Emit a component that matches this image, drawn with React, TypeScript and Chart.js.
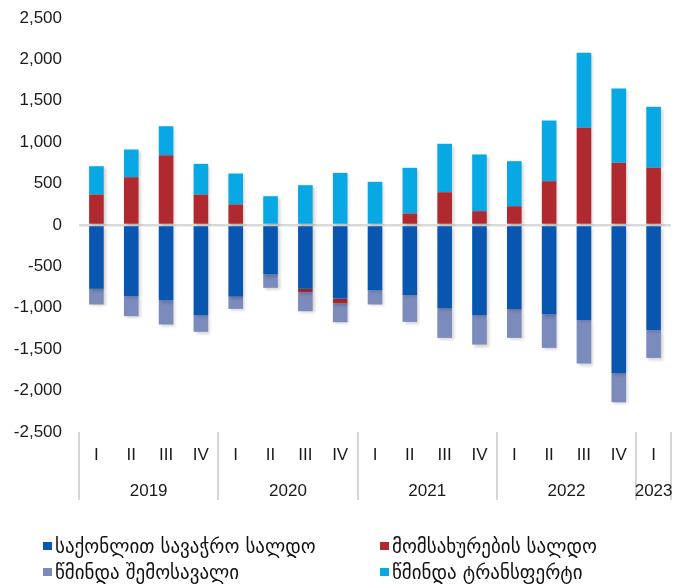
import React, { useEffect, useRef } from "react";
import { Chart, registerables } from "chart.js";

Chart.register(...registerables);

const quarters = ["I", "II", "III", "IV", "I", "II", "III", "IV", "I", "II", "III", "IV", "I", "II", "III", "IV", "I"];
const years = ["2019", "2020", "2021", "2022", "2023"];
const yearSpans = [4, 4, 4, 4, 1];

const goodsBalance = [-771, -860, -912, -1089, -868, -598, -771, -888, -787, -848, -1001, -1089, -1013, -1081, -1150, -1786, -1271];
const servicesBalance = [368, 577, 843, 368, 248, 0, -40, -60, 0, 139, 396, 167, 227, 529, 1174, 751, 691];
const netIncome = [-189, -241, -290, -201, -145, -161, -230, -226, -173, -322, -362, -355, -350, -403, -523, -355, -334];
const netTransfers = [342, 335, 350, 371, 374, 348, 481, 630, 522, 552, 585, 685, 544, 733, 906, 898, 737];

const seriesLabels = ["საქონლით სავაჭრო სალდო", "მომსახურების სალდო", "წმინდა შემოსავალი", "წმინდა ტრანსფერტი"];
const seriesColors = ["#0956b1", "#b0292f", "#7b8bbb", "#07a8e4"];

const yMin = -2500;
const yMax = 2500;
const yStep = 500;

const FONT = "'Liberation Sans', Arial, sans-serif";

const shadowPlugin = {
  id: "barShadow",
  beforeDatasetsDraw(chart: any) {
    const ctx = chart.ctx;
    ctx.save();
    ctx.shadowColor = "rgba(0,0,0,0.18)";
    ctx.shadowBlur = 3;
    ctx.shadowOffsetX = 2;
    ctx.shadowOffsetY = 2;
  },
  afterDatasetsDraw(chart: any) {
    chart.ctx.restore();
  },
};

const yearPlugin = {
  id: "yearGroups",
  afterDraw(chart: any) {
    const ctx = chart.ctx;
    const xs = chart.scales.x;
    const area = chart.chartArea;
    const half = (xs.getPixelForValue(1) - xs.getPixelForValue(0)) / 2;
    ctx.save();
    ctx.strokeStyle = "#d6d6d6";
    ctx.lineWidth = 2;
    let idx = 0;
    const bounds: number[] = [idx];
    yearSpans.forEach((s) => {
      idx += s;
      bounds.push(idx);
    });
    bounds.forEach((b) => {
      const x = Math.round(xs.getPixelForValue(b) - half);
      ctx.beginPath();
      ctx.moveTo(x, area.bottom);
      ctx.lineTo(x, area.bottom + 68);
      ctx.stroke();
    });
    ctx.fillStyle = "#1a1a1a";
    ctx.font = `17px ${FONT}`;
    ctx.textAlign = "center";
    ctx.textBaseline = "middle";
    years.forEach((y, i) => {
      const start = bounds[i];
      const end = bounds[i + 1] - 1;
      const cx = (xs.getPixelForValue(start) + xs.getPixelForValue(end)) / 2;
      ctx.fillText(y, cx, area.bottom + 59);
    });
    ctx.restore();
  },
};

export default function App() {
  const canvasRef = useRef<HTMLCanvasElement | null>(null);

  useEffect(() => {
    if (!canvasRef.current) return;
    const data = [goodsBalance, servicesBalance, netIncome, netTransfers];
    const chart = new Chart(canvasRef.current, {
      type: "bar",
      data: {
        labels: quarters,
        datasets: data.map((d, i) => ({
          label: seriesLabels[i],
          data: d,
          backgroundColor: seriesColors[i],
          borderWidth: 0,
          barPercentage: 0.42,
          categoryPercentage: 1,
        })),
      },
      options: {
        animation: false,
        responsive: false,
        maintainAspectRatio: false,
        layout: { padding: { top: 18, left: 0, right: 3, bottom: 0 } },
        plugins: {
          legend: { display: false },
          tooltip: { enabled: false },
        },
        scales: {
          x: {
            stacked: true,
            grid: { display: false, drawTicks: false },
            border: { display: false },
            ticks: {
              color: "#1a1a1a",
              font: { family: FONT, size: 17 },
              padding: 13,
              maxRotation: 0,
              autoSkip: false,
            },
            afterFit(scale: any) {
              scale.height = 152;
            },
          },
          y: {
            stacked: true,
            min: yMin,
            max: yMax,
            border: { display: false },
            grid: {
              drawTicks: false,
              color: (c: any) => (c.tick && c.tick.value === 0 ? "#d9d9d9" : "rgba(0,0,0,0)"),
              lineWidth: (c: any) => (c.tick && c.tick.value === 0 ? 2.5 : 0),
            },
            ticks: {
              stepSize: yStep,
              color: "#1a1a1a",
              font: { family: FONT, size: 17 },
              padding: 17,
              callback: (v: any) => Number(v).toLocaleString("en-US"),
            },
            afterFit(scale: any) {
              scale.width = 79;
              scale.paddingTop = 8;
              scale.paddingBottom = 8;
            },
          },
        },
      },
      plugins: [shadowPlugin, yearPlugin],
    });
    return () => chart.destroy();
  }, []);

  return (
    <div style={{ position: "absolute", left: 0, top: 0, width: 674, height: 584, background: "#fff" }}>
      <canvas ref={canvasRef} width={674} height={584} style={{ position: "absolute", left: 0, top: 0 }} />
      <div
        style={{
          position: "absolute",
          left: 43,
          top: 533,
          display: "grid",
          gridTemplateColumns: "337px 280px",
          gridAutoRows: "26px",
          fontFamily: "'DejaVu Sans', sans-serif",
          fontSize: 19,
          color: "#111",
        }}
      >
        {seriesLabels.map((l, i) => (
          <div key={l} style={{ display: "flex", alignItems: "center", whiteSpace: "nowrap" }}>
            <span style={{ display: "inline-block", width: 9, height: 8, background: seriesColors[i], marginRight: 3, flexShrink: 0 }} />
            <span>{l}</span>
          </div>
        ))}
      </div>
    </div>
  );
}
